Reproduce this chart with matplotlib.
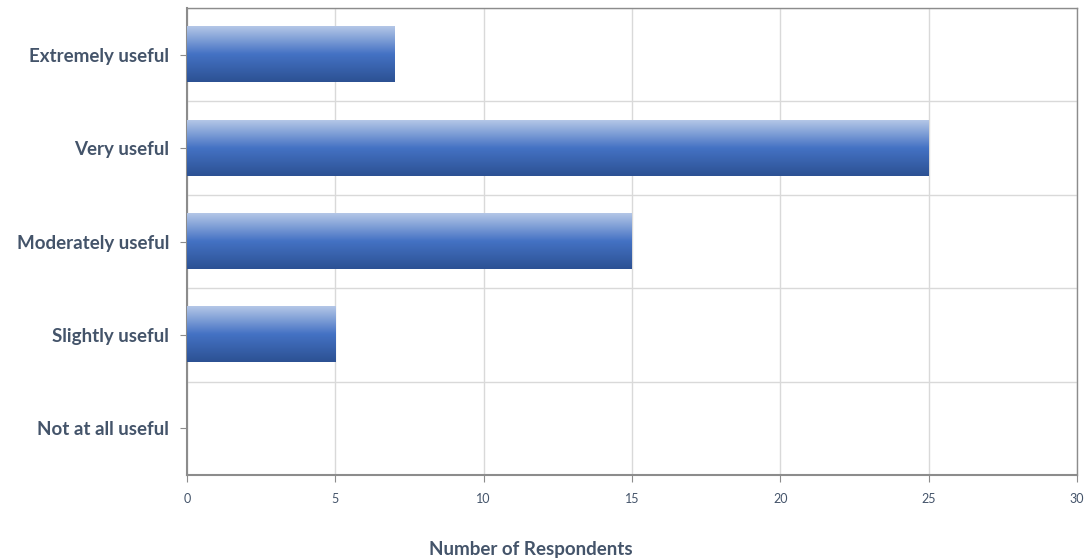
import matplotlib
matplotlib.use("Agg")
import matplotlib.pyplot as plt
import numpy as np
from matplotlib.colors import LinearSegmentedColormap

categories = ["Extremely useful", "Very useful", "Moderately useful", "Slightly useful", "Not at all useful"]
values = [7, 25, 15, 5, 0]
xticks = [0, 5, 10, 15, 20, 25, 30]

plt.rcParams['font.family'] = ['Lato', 'DejaVu Sans']
txt = '#44546a'

fig = plt.figure(figsize=(10.85, 5.6), dpi=100)
ax = fig.add_axes([187/1085, 1-475/560, (1077-187)/1085, (475-8)/560])

cmap = LinearSegmentedColormap.from_list('g', ['#b4c7e7', '#4472c4', '#2c5193'])
grad = np.linspace(0, 1, 256).reshape(-1, 1)
ypos = np.arange(len(categories))
h = 0.59
for y, v in zip(ypos, values):
    if v > 0:
        ax.imshow(grad, cmap=cmap, aspect='auto', extent=(0, v, y + h/2, y - h/2),
                  origin='upper', zorder=3, interpolation='bilinear')

ax.set_xlim(0, 30)
ax.set_ylim(len(categories) - 0.5, -0.5)
ax.set_xticks(xticks)
ax.set_xticklabels([str(t) for t in xticks], fontsize=9, color=txt)
ax.set_yticks(ypos)
ax.set_yticklabels(categories, fontsize=13.5, fontweight='bold', color=txt)
ax.set_yticks(np.arange(-0.5, len(categories), 1), minor=True)
ax.tick_params(axis='y', which='minor', length=0)
ax.tick_params(axis='y', which='major', length=5, color='#8c8c8c', pad=8)
ax.tick_params(axis='x', length=5, color='#8c8c8c', pad=8)
ax.grid(axis='x', color='#d9d9d9', lw=1, zorder=0)
ax.grid(axis='y', which='minor', color='#d9d9d9', lw=1, zorder=0)
ax.set_axisbelow(True)
for s in ['left', 'bottom']:
    ax.spines[s].set_color('#8c8c8c')
    ax.spines[s].set_linewidth(1.5)
for s in ['top', 'right']:
    ax.spines[s].set_color('#8c8c8c')
    ax.spines[s].set_linewidth(1.0)

fig.text(531/1085, 1-550/560, "Number of Respondents", ha='center', va='center',
         fontsize=13.5, fontweight='bold', color=txt)

fig.savefig('out.png', dpi=100)
